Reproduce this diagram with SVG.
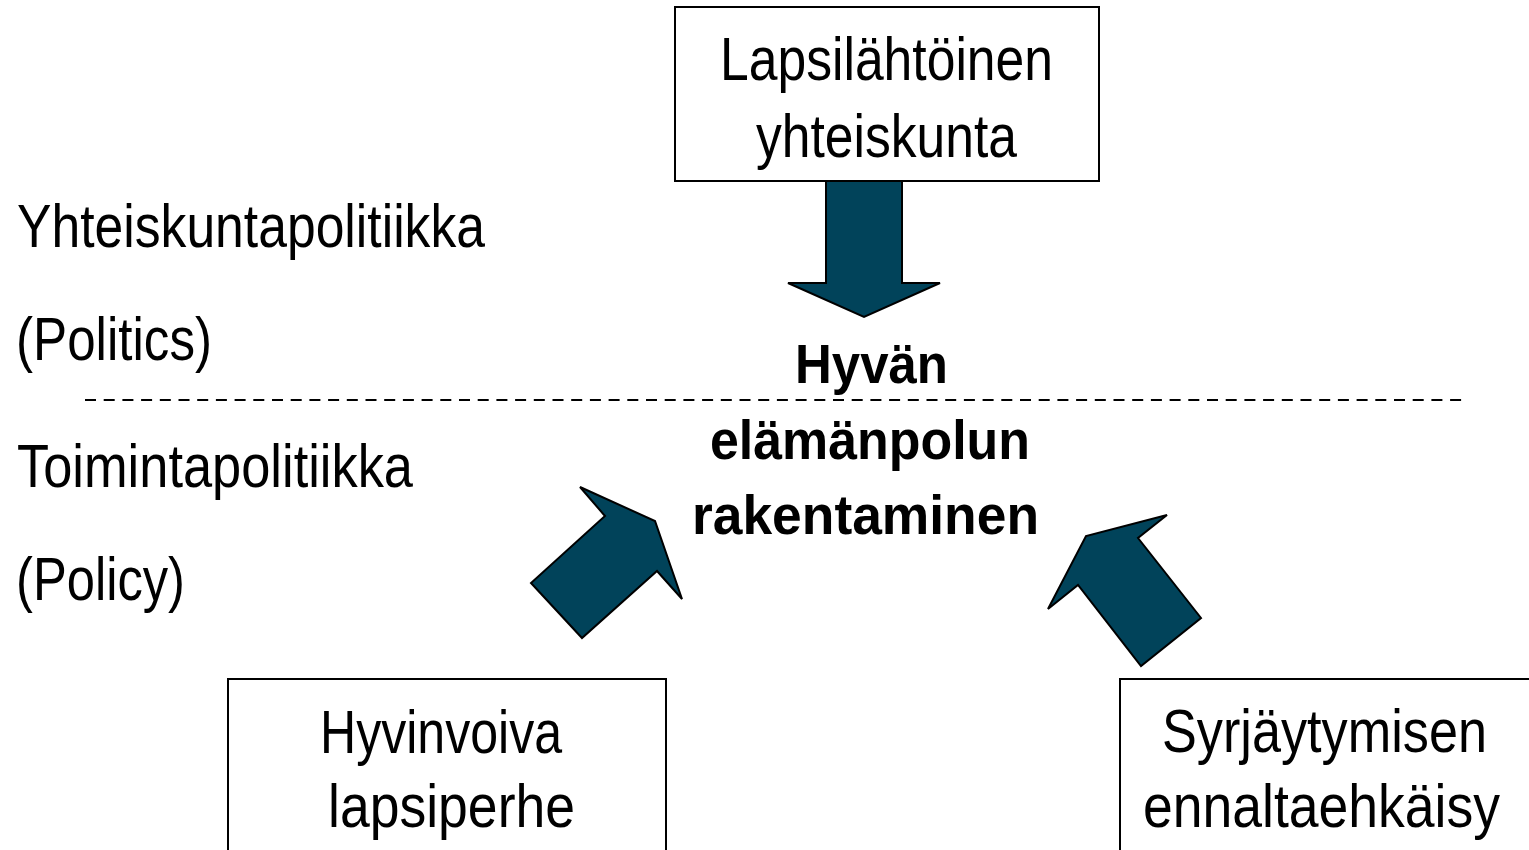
<svg xmlns="http://www.w3.org/2000/svg" width="1529" height="850" viewBox="0 0 1529 850">
<style>
text{font-family:"Liberation Sans Narrow","Liberation Sans","Arial Narrow",sans-serif;fill:#000}
.r{font-size:62px}
.b{font-size:56px;font-weight:bold}
.box{fill:#fff;stroke:#000;stroke-width:2}
.arr{fill:#01435A;stroke:#000;stroke-width:2;stroke-linejoin:miter}
</style>
<rect width="1529" height="850" fill="#fff"/>
<g id="labels">
<text class="r" x="17" y="247" textLength="468" lengthAdjust="spacingAndGlyphs">Yhteiskuntapolitiikka</text>
<text class="r" x="16" y="360" textLength="196" lengthAdjust="spacingAndGlyphs">(Politics)</text>
<text class="r" x="17" y="487" textLength="396" lengthAdjust="spacingAndGlyphs">Toimintapolitiikka</text>
<text class="r" x="16" y="600" textLength="169" lengthAdjust="spacingAndGlyphs">(Policy)</text>
</g>
<line x1="85" y1="400" x2="1462" y2="400" stroke="#000" stroke-width="2" stroke-dasharray="11 7.7"/>
<g id="connectors">
<polygon class="arr" points="826,181 902,181 902,283 940,283 864,317 788,283 826,283"/>
<polygon class="arr" points="580,487 655,521 682,599 657,571 582,638 531,583 605,516"/>
<polygon class="arr" points="1167,515 1138,538 1201,618 1141,666 1078,585 1048,609 1086,536"/>
</g>
<g id="node-top">
<rect class="box" x="675" y="7" width="424" height="174"/>
<text class="r" x="720" y="80" textLength="333" lengthAdjust="spacingAndGlyphs">Lapsilähtöinen</text>
<text class="r" x="756" y="157" textLength="261" lengthAdjust="spacingAndGlyphs">yhteiskunta</text>
</g>
<g id="node-center">
<text class="b" x="795" y="383" textLength="153" lengthAdjust="spacingAndGlyphs">Hyvän</text>
<text class="b" x="710" y="459" textLength="320" lengthAdjust="spacingAndGlyphs">elämänpolun</text>
<text class="b" x="692" y="534" textLength="347" lengthAdjust="spacingAndGlyphs">rakentaminen</text>
</g>
<g id="node-left">
<rect class="box" x="228" y="679" width="438" height="180"/>
<text class="r" x="320" y="753" textLength="242" lengthAdjust="spacingAndGlyphs">Hyvinvoiva</text>
<text class="r" x="328" y="827" textLength="247" lengthAdjust="spacingAndGlyphs">lapsiperhe</text>
</g>
<g id="node-right">
<rect class="box" x="1120" y="679" width="420" height="180"/>
<text class="r" x="1162" y="752" textLength="325" lengthAdjust="spacingAndGlyphs">Syrjäytymisen</text>
<text class="r" x="1143" y="827" textLength="357" lengthAdjust="spacingAndGlyphs">ennaltaehkäisy</text>
</g>
</svg>
